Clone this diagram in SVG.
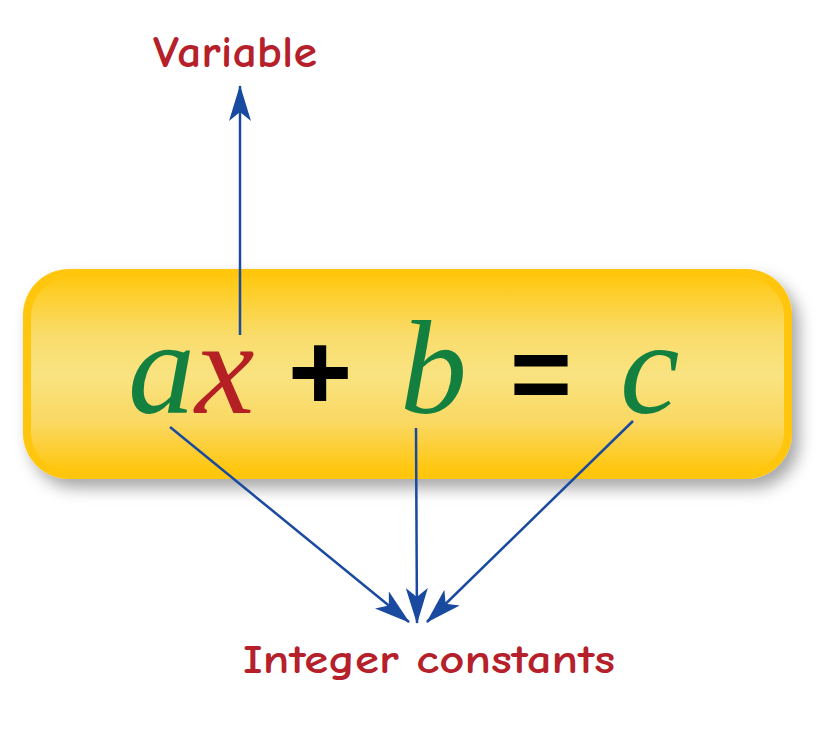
<svg xmlns="http://www.w3.org/2000/svg" width="834" height="730" viewBox="0 0 834 730">
<defs>
<linearGradient id="g" x1="0" y1="0" x2="0" y2="1">
<stop offset="0" stop-color="#FFC913"/>
<stop offset="0.3" stop-color="#F9DC6C"/>
<stop offset="0.5" stop-color="#F9E381"/>
<stop offset="0.75" stop-color="#FAD862"/>
<stop offset="1" stop-color="#FFC60C"/>
</linearGradient>
<filter id="sh" x="-10%" y="-20%" width="125%" height="150%">
<feDropShadow dx="7" dy="9" stdDeviation="8" flood-color="#000" flood-opacity="0.35"/>
</filter>
<marker id="ah" viewBox="0 0 36 22" refX="35" refY="11" markerWidth="36" markerHeight="22" markerUnits="userSpaceOnUse" orient="auto">
<path d="M0,0 L36,11 L0,22 L9,11 Z" fill="#1A4AA0"/>
</marker>
<style>
.lbl{font-family:"Comic Neue","Liberation Sans",sans-serif;font-weight:bold;fill:#B5202A;}
.m{font-family:"Liberation Serif",serif;font-style:italic;font-size:134px;}
.op{font-family:"Liberation Sans",sans-serif;font-weight:bold;fill:#000;}
.c{stroke:#1A4AA0;stroke-width:2.5;fill:none;marker-end:url(#ah);}
</style>
</defs>
<g id="box">
<rect x="23" y="269" width="769" height="210" rx="46" fill="#FFC60B" filter="url(#sh)"/>
<rect x="31" y="278" width="753" height="193" rx="38" fill="url(#g)"/>
</g>
<g id="equation">
<text x="128" y="413" class="m" fill="#138040">a</text>
<text x="195" y="413" class="m" fill="#B52025">x</text>
<text x="288" y="410" class="op" font-size="110">+</text>
<text x="400" y="413" class="m" fill="#138040">b</text>
<text x="510" y="410" class="op" font-size="106">=</text>
<text x="620" y="413" class="m" fill="#138040">c</text>
</g>
<g id="variable-label">
<text x="153" y="67" class="lbl" font-size="44" textLength="164" lengthAdjust="spacingAndGlyphs">Variable</text>
</g>
<g id="constants-label">
<text x="243" y="673" class="lbl" font-size="40" textLength="372" lengthAdjust="spacingAndGlyphs">Integer constants</text>
</g>
<g id="connectors">
<line class="c" x1="240" y1="335" x2="240" y2="86"/>
<line class="c" x1="170" y1="427" x2="409" y2="622"/>
<line class="c" x1="416" y1="428" x2="417" y2="623"/>
<line class="c" x1="633" y1="421" x2="427" y2="622"/>
</g>
</svg>
